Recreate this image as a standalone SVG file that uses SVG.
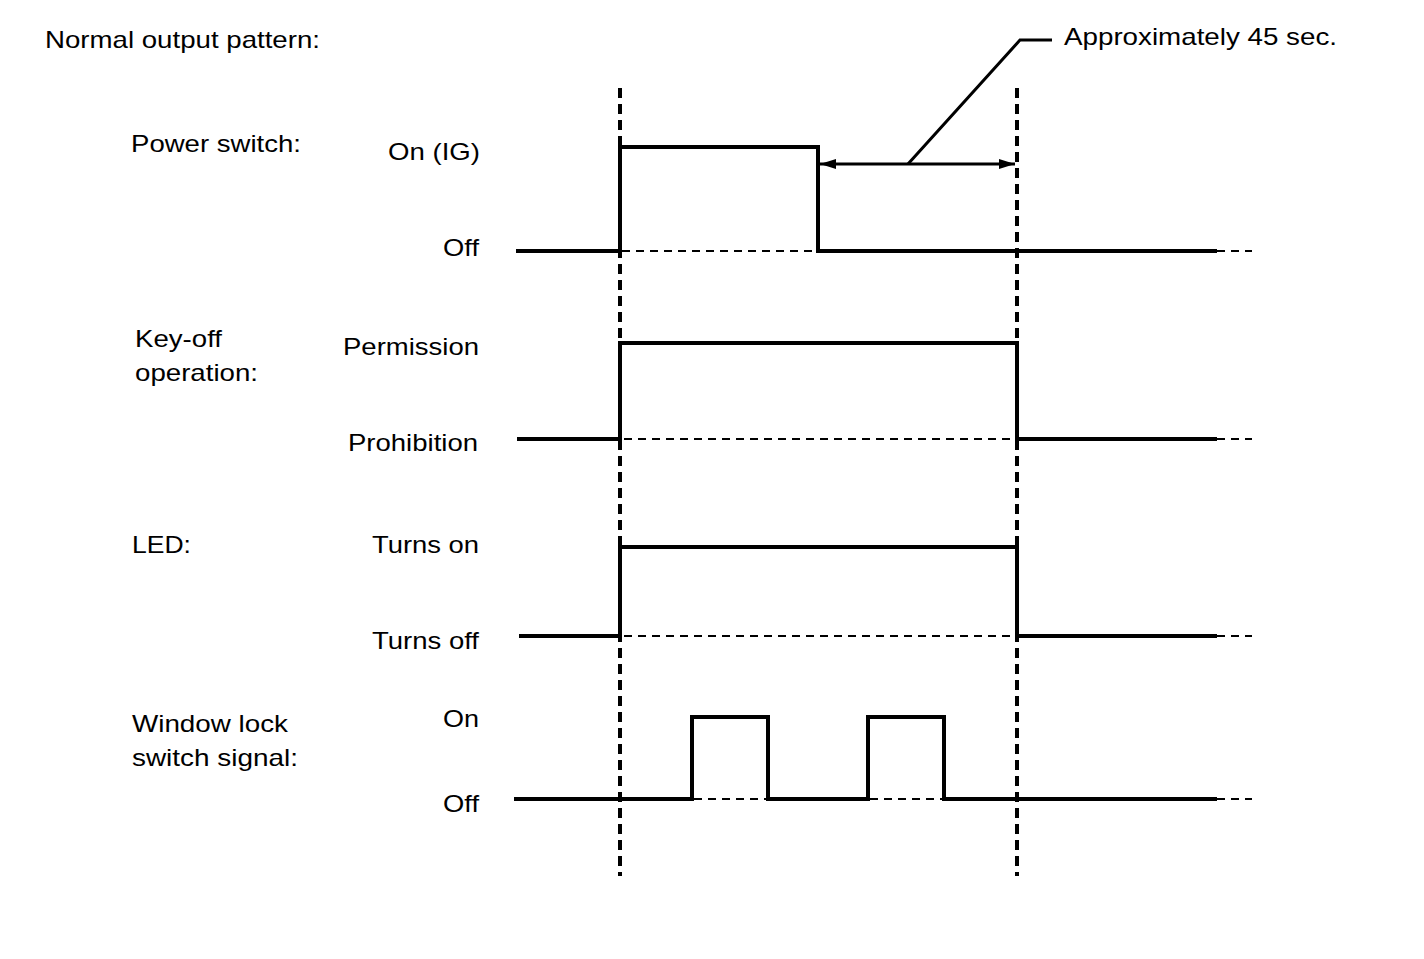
<svg xmlns="http://www.w3.org/2000/svg" width="1424" height="959" viewBox="0 0 1424 959">
<style>
text{font-family:"Liberation Sans",Arial,sans-serif;font-size:24px;fill:#000}
.r{text-anchor:end}
.sig{fill:none;stroke:#000;stroke-width:4;stroke-linejoin:miter}
.ref{fill:none;stroke:#000;stroke-width:2.2;stroke-dasharray:8,6}
.tail{fill:none;stroke:#000;stroke-width:2.2;stroke-dasharray:8,6}
.vd{fill:none;stroke:#000;stroke-width:4;stroke-dasharray:10,6}
.ld{fill:none;stroke:#000;stroke-width:3}
</style>
<defs>
<marker id="ah" viewBox="0 0 16 10" refX="16" refY="5" markerWidth="16" markerHeight="10" markerUnits="userSpaceOnUse" orient="auto-start-reverse">
<path d="M0,0 L16,5 L0,10 Z" fill="#000"/>
</marker>
</defs>
<rect width="1424" height="959" fill="#fff"/>
<text x="45" y="48" textLength="275" lengthAdjust="spacingAndGlyphs">Normal output pattern:</text>
<g id="power-switch">
<text x="131" y="152" textLength="170" lengthAdjust="spacingAndGlyphs">Power switch:</text>
<text class="r" x="480" y="160" textLength="92" lengthAdjust="spacingAndGlyphs">On (IG)</text>
<text class="r" x="479" y="256" textLength="36" lengthAdjust="spacingAndGlyphs">Off</text>
<line class="ref" x1="622" y1="251" x2="818" y2="251"/>
<polyline class="sig" points="516,251 620,251 620,147 818,147 818,251 1217,251"/>
<line class="tail" x1="1217" y1="251" x2="1252" y2="251"/>
</g>
<g id="key-off">
<text x="135" y="347" textLength="87" lengthAdjust="spacingAndGlyphs">Key-off</text>
<text x="135" y="381" textLength="123" lengthAdjust="spacingAndGlyphs">operation:</text>
<text class="r" x="479" y="355" textLength="136" lengthAdjust="spacingAndGlyphs">Permission</text>
<text class="r" x="478" y="451" textLength="130" lengthAdjust="spacingAndGlyphs">Prohibition</text>
<line class="ref" x1="624" y1="439" x2="1015" y2="439"/>
<polyline class="sig" points="517,439 620,439 620,343 1017,343 1017,439 1217,439"/>
<line class="tail" x1="1217" y1="439" x2="1252" y2="439"/>
</g>
<g id="led">
<text x="132" y="553" textLength="59" lengthAdjust="spacingAndGlyphs">LED:</text>
<text class="r" x="479" y="553" textLength="107" lengthAdjust="spacingAndGlyphs">Turns on</text>
<text class="r" x="479" y="649" textLength="107" lengthAdjust="spacingAndGlyphs">Turns off</text>
<line class="ref" x1="624" y1="636" x2="1015" y2="636"/>
<polyline class="sig" points="519,636 620,636 620,547 1017,547 1017,636 1217,636"/>
<line class="tail" x1="1217" y1="636" x2="1252" y2="636"/>
</g>
<g id="window-lock">
<text x="132" y="732" textLength="156" lengthAdjust="spacingAndGlyphs">Window lock</text>
<text x="132" y="766" textLength="166" lengthAdjust="spacingAndGlyphs">switch signal:</text>
<text class="r" x="479" y="727" textLength="36" lengthAdjust="spacingAndGlyphs">On</text>
<text class="r" x="479" y="812" textLength="36" lengthAdjust="spacingAndGlyphs">Off</text>
<line class="ref" x1="694" y1="799" x2="766" y2="799"/>
<line class="ref" x1="870" y1="799" x2="942" y2="799"/>
<polyline class="sig" points="514,799 692,799 692,717 768,717 768,799 868,799 868,717 944,717 944,799 1217,799"/>
<line class="tail" x1="1217" y1="799" x2="1252" y2="799"/>
</g>
<g id="connectors">
<line class="vd" x1="620" y1="88" x2="620" y2="876"/>
<line class="vd" x1="1017" y1="88" x2="1017" y2="876"/>
<line class="ld" x1="820" y1="164" x2="1015" y2="164" marker-start="url(#ah)" marker-end="url(#ah)"/>
<polyline class="ld" points="908,164 1020,40 1052,40"/>
</g>
<g id="annotation">
<text x="1064" y="45" textLength="273" lengthAdjust="spacingAndGlyphs">Approximately 45 sec.</text>
</g>
</svg>
